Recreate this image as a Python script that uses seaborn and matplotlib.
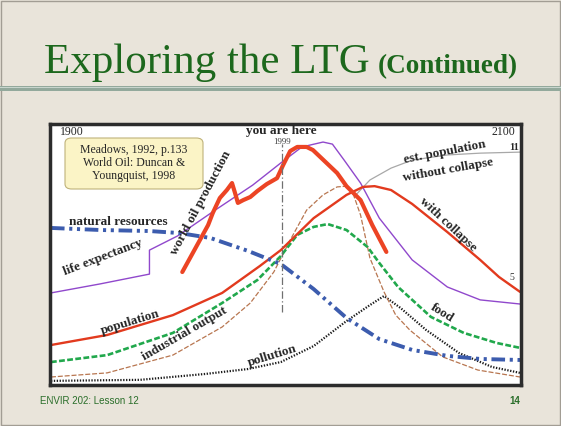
import matplotlib
matplotlib.use("Agg")
import matplotlib.pyplot as plt
import seaborn as sns
from matplotlib.patches import FancyBboxPatch, Rectangle

# readings from the LTG chart: year vs. relative level (0 = bottom, 100 = top)
res_years = [1900, 1921, 1942, 1955, 1968, 1984, 1998, 2012, 2026, 2040, 2054, 2069, 2083, 2100]
res_level = [60.5, 59.7, 59.3, 58.5, 56.6, 51.6, 46.5, 36.8, 25.6, 17.4, 13.2, 10.9, 9.7, 9.3]

life_years = [1900, 1921, 1942, 1942, 1954, 1970, 1986, 1998, 2007, 2016, 2020, 2025, 2032, 2040, 2054, 2069, 2083, 2100]
life_level = [35.3, 38.8, 42.6, 51.9, 57.4, 67.4, 77.1, 85.7, 91.9, 93.8, 93.0, 86.8, 77.9, 64.3, 48.1, 37.6, 32.6, 31.0]

oil_years = [1956, 1960, 1963.5, 1967, 1969, 1972, 1975, 1977.2, 1978.5, 1979.7, 1982, 1985, 1988,
             1992, 1996.4, 1999, 2002, 2005, 2009, 2011.7, 2022, 2026, 2032, 2037, 2043]
oil_level = [43.4, 50.0, 55.8, 61.6, 66.3, 72.1, 75.2, 77.9, 74.0, 70.2, 71.3, 72.5, 74.8,
             77.5, 79.8, 84.9, 90.3, 91.9, 91.9, 90.7, 81.8, 76.7, 71.3, 61.6, 51.2]

pop_years = [1900, 1924, 1952, 1973, 1989, 1998, 2012, 2026, 2033, 2038, 2045, 2054, 2069, 2083, 2091, 2100]
pop_level = [15.1, 19.0, 26.7, 35.3, 45.7, 51.9, 64.3, 73.3, 76.4, 76.7, 75.2, 69.8, 58.9, 48.1, 41.5, 35.7]

est_years = [2030, 2036, 2045, 2054, 2069, 2083, 2100]
est_level = [73.3, 79.1, 83.7, 86.8, 88.8, 89.5, 89.9]

food_years = [1900, 1924, 1952, 1973, 1988, 1998, 2005, 2012, 2018, 2026, 2035, 2040, 2048, 2062, 2076, 2090, 2100]
food_level = [8.5, 11.2, 19.8, 31.4, 40.3, 49.6, 57.8, 60.9, 62.0, 59.7, 53.1, 46.9, 37.6, 26.0, 19.8, 15.9, 14.0]

ind_years = [1900, 1924, 1952, 1973, 1985, 1995, 2002, 2009, 2016, 2022, 2026, 2029, 2032, 2036,
             2042, 2047, 2053, 2067, 2082, 2100]
ind_level = [2.7, 4.3, 11.2, 22.1, 31.4, 43.4, 55.8, 67.4, 73.3, 76.4, 76.7, 73.3, 65.5, 48.8,
             35.7, 26.7, 20.9, 10.5, 5.4, 2.7]

pol_years = [1900, 1938, 1966, 1984, 1998, 2012, 2026, 2036, 2042, 2049, 2060, 2074, 2088, 2100]
pol_level = [1.2, 1.6, 3.9, 5.8, 8.5, 14.7, 24.4, 30.6, 34.1, 29.5, 20.9, 12.0, 6.6, 4.3]

W, H = 561, 426


def fx(x):
    return x / W


def fy(y):
    return 1 - y / H


sns.set_style("white")
plt.rcParams["font.family"] = ["Liberation Serif", "DejaVu Serif"]

fig = plt.figure(figsize=(W / 100, H / 100), dpi=100)
fig.patch.set_facecolor("#e9e4da")

# slide frame, title bar and footer
fig.patches.append(Rectangle((0.002, 0.002), 0.996, 0.996, transform=fig.transFigure,
                             fill=False, edgecolor="#a29d94", lw=1))
fig.patches.append(Rectangle((0, fy(91)), 1, 5 / H, transform=fig.transFigure,
                             facecolor="#93a99c", edgecolor="none"))
fig.patches.append(Rectangle((0, fy(88)), 1, 1.5 / H, transform=fig.transFigure,
                             facecolor="#c8d5cd", edgecolor="none"))
fig.text(fx(44), fy(73), "Exploring the LTG", fontsize=31, color="#1d681d", va="baseline")
fig.text(fx(378), fy(73), "(Continued)", fontsize=19.5, color="#1d681d", va="baseline", fontweight="bold")
fig.text(fx(40), fy(404), "ENVIR 202: Lesson 12", fontsize=7, color="#2a6e2a",
         family="Liberation Sans", va="baseline")
fig.text(fx(520), fy(404), "14", fontsize=7, color="#2a6e2a", family="Liberation Sans",
         va="baseline", ha="right", fontweight="bold")

ax = fig.add_axes([fx(50), fy(385), 471 / W, 261 / H])
ax.set_facecolor("white")

common = dict(ax=ax, sort=False, estimator=None, legend=False)
sns.lineplot(x=est_years, y=est_level, color="#a8a8a8", linewidth=0.9, **common)
sns.lineplot(x=pol_years, y=pol_level, color="#1a1a1a", linewidth=1.6,
             linestyle=(0, (0.6, 0.7)), **common)
sns.lineplot(x=ind_years, y=ind_level, color="#b87650", linewidth=0.9,
             linestyle=(0, (4, 1.5)), **common)
sns.lineplot(x=food_years, y=food_level, color="#21a84c", linewidth=1.9,
             linestyle=(0, (2.2, 0.9)), **common)
sns.lineplot(x=life_years, y=life_level, color="#9048cc", linewidth=1.0, **common)
sns.lineplot(x=pop_years, y=pop_level, color="#e23a1e", linewidth=1.7, **common)
sns.lineplot(x=res_years, y=res_level, color="#3c5cae", linewidth=2.8,
             linestyle=(0, (3.5, 1.2, 0.8, 1.2, 0.8, 1.2)), **common)
sns.lineplot(x=oil_years, y=oil_level, color="#ec4424", linewidth=3.0, **common)

ax.vlines(1998.6, 28, 93, color="#707070", lw=0.9, linestyles=[(0, (6, 2, 1, 2))])

ax.set_xlim(1899.6, 2100.4)
ax.set_ylim(-0.4, 100.8)
ax.set_xticks([])
ax.set_yticks([])
ax.set_xlabel("")
ax.set_ylabel("")
for s in ax.spines.values():
    s.set_color("#2c2c2c")
    s.set_linewidth(2.5)

# labels written on the chart
lab = dict(color="#262626", fontweight="bold", ha="center", va="center")
fig.text(fx(72), fy(132), "1900", fontsize=8.5, color="#262626", ha="center", va="center")
fig.text(fx(503), fy(132), "2100", fontsize=8.5, color="#262626", ha="center", va="center")
fig.text(fx(281), fy(131), "you are here", fontsize=9.5, **lab)
fig.text(fx(282), fy(142), "1999", fontsize=6.5, color="#444444", ha="center", va="center")
fig.text(fx(514), fy(148), "11", fontsize=7.5, **lab)
fig.text(fx(512), fy(278), "5", fontsize=7, color="#333333", ha="center", va="center")
fig.text(fx(118), fy(222), "natural resources", fontsize=9.5, **lab)
fig.text(fx(103), fy(257), "life expectancy", fontsize=9.5, rotation=21, **lab)
fig.text(fx(201), fy(203), "world oil production", fontsize=9.5, rotation=62, **lab)
fig.text(fx(445), fy(152), "est. population", fontsize=9.5, rotation=11, **lab)
fig.text(fx(448), fy(170), "without collapse", fontsize=9.5, rotation=10, **lab)
fig.text(fx(448), fy(225), "with collapse", fontsize=9.5, rotation=-43, **lab)
fig.text(fx(130), fy(322), "population", fontsize=9.5, rotation=17, **lab)
fig.text(fx(185), fy(334), "industrial output", fontsize=9.5, rotation=30, **lab)
fig.text(fx(272), fy(356), "pollution", fontsize=9.5, rotation=17, **lab)
fig.text(fx(442), fy(313), "food", fontsize=9.5, rotation=-32, **lab)

box = FancyBboxPatch((fx(65), fy(189)), fx(203) - fx(65), fy(138) - fy(189),
                     boxstyle="round,pad=0,rounding_size=0.012", transform=fig.transFigure,
                     facecolor="#fbf4c6", edgecolor="#bfb27a", lw=0.8)
fig.patches.append(box)
fig.text(fx(134), fy(163), "Meadows, 1992, p.133\nWorld Oil: Duncan &\nYoungquist, 1998",
         fontsize=8.5, color="#262626", ha="center", va="center", linespacing=1.1)

fig.savefig("out.png", dpi=100, facecolor=fig.get_facecolor())
